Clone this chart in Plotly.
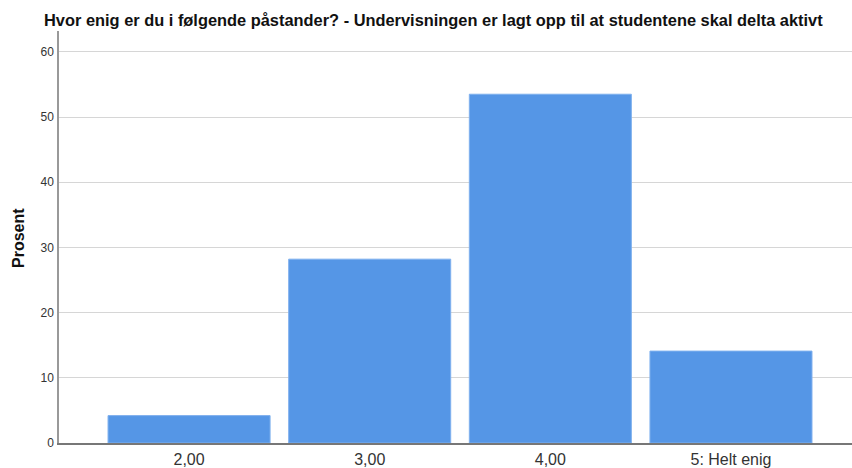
import plotly.graph_objects as go

categories = ["2,00", "3,00", "4,00", "5: Helt enig"]
values = [4.2, 28.2, 53.5, 14.1]
y_ticks = [0, 10, 20, 30, 40, 50, 60]

title_text = "Hvor enig er du i følgende påstander? - Undervisningen er lagt opp til at studentene skal delta aktivt"
y_label = "Prosent"

fig = go.Figure()
fig.add_trace(go.Bar(
    x=list(range(len(categories))),
    y=values,
    marker=dict(color="#5596E6", line=dict(color="#7FB0EE", width=1)),
    hoverinfo="skip",
))

fig.update_layout(
    width=852, height=468,
    margin=dict(l=59, r=0, t=31, b=25),
    paper_bgcolor="white", plot_bgcolor="white",
    bargap=0.103,
    showlegend=False,
    font=dict(family="Liberation Sans, Arial, sans-serif", color="#222"),
    xaxis=dict(
        range=[-0.72, 3.67],
        tickmode="array",
        tickvals=list(range(len(categories))),
        ticktext=categories,
        tickfont=dict(size=16, color="#333"),
        showgrid=False,
        showline=True, linecolor="#777", linewidth=1.5,
        ticks="outside", ticklen=1, tickcolor="rgba(0,0,0,0)",
        zeroline=False,
        fixedrange=True,
    ),
    yaxis=dict(
        range=[0, 63.2],
        tickmode="array",
        tickvals=y_ticks,
        ticktext=[str(v) for v in y_ticks],
        tickfont=dict(size=12, color="#333"),
        showgrid=True, gridcolor="#D6D6D6", gridwidth=1.2,
        showline=True, linecolor="#999", linewidth=1.5,
        ticks="outside", ticklen=1, tickcolor="rgba(0,0,0,0)",
        zeroline=False,
        fixedrange=True,
    ),
    annotations=[
        dict(text="<b>" + title_text + "</b>", xref="paper", yref="paper",
             x=-17/793, y=1 + 11/412, xanchor="left", yanchor="middle",
             showarrow=False, font=dict(size=16.4, color="#111")),
        dict(text="<b>" + y_label + "</b>", xref="paper", yref="paper",
             x=-41/793, y=0.5 - 1/412, xanchor="center", yanchor="middle", textangle=-90,
             showarrow=False, font=dict(size=16, color="#111")),
    ],
)

fig.write_html("out.html", config={"displayModeBar": False},
               post_script="document.body.style.margin='0';document.body.style.overflow='hidden';")
